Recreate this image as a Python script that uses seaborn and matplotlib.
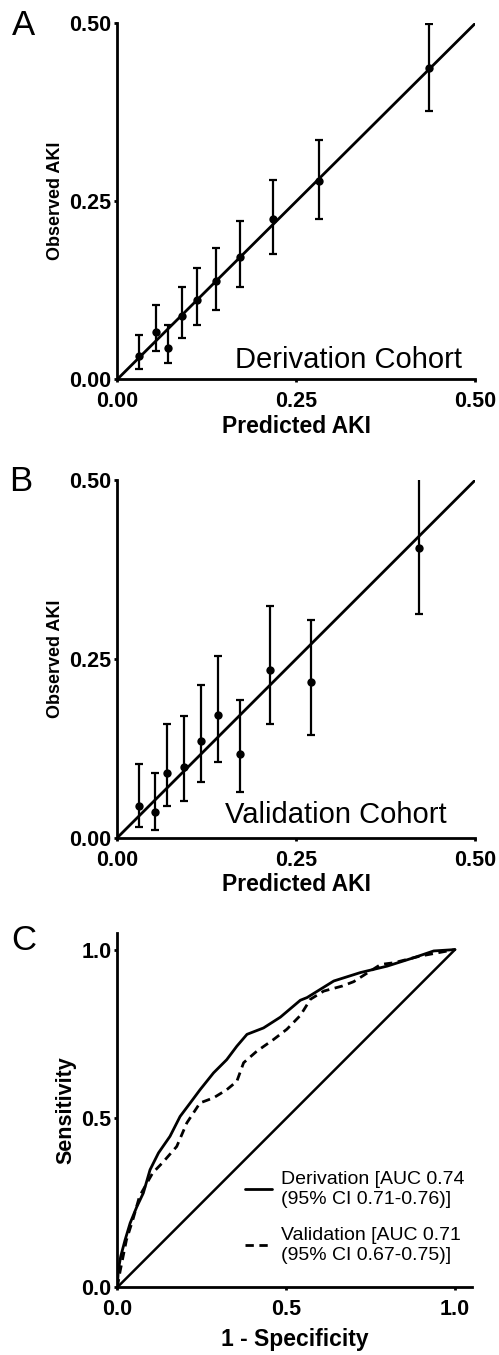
import matplotlib
matplotlib.use("Agg")
import matplotlib.pyplot as plt
import seaborn as sns
import numpy as np
import pandas as pd

# ---------------- data ----------------
deriv_pred = [0.030, 0.054, 0.071, 0.090, 0.112, 0.138, 0.172, 0.217, 0.282, 0.436]
deriv_obs = [0.033, 0.066, 0.044, 0.089, 0.112, 0.138, 0.172, 0.225, 0.279, 0.437]
deriv_lo = [0.014, 0.040, 0.023, 0.058, 0.076, 0.098, 0.129, 0.176, 0.225, 0.377]
deriv_hi = [0.062, 0.104, 0.076, 0.130, 0.156, 0.185, 0.223, 0.280, 0.336, 0.499]

valid_pred = [0.031, 0.053, 0.070, 0.093, 0.117, 0.140, 0.171, 0.213, 0.270, 0.421]
valid_obs = [0.045, 0.036, 0.091, 0.099, 0.135, 0.171, 0.117, 0.234, 0.217, 0.405]
valid_lo = [0.015, 0.011, 0.045, 0.051, 0.078, 0.106, 0.064, 0.159, 0.144, 0.313]
valid_hi = [0.103, 0.090, 0.159, 0.170, 0.213, 0.254, 0.193, 0.324, 0.304, 0.530]

roc_deriv_fpr = [0, 0.003, 0.010, 0.023, 0.038, 0.058, 0.077, 0.097, 0.122, 0.156, 0.186,
                 0.216, 0.245, 0.285, 0.324, 0.354, 0.384, 0.433, 0.483, 0.542, 0.562,
                 0.641, 0.720, 0.799, 0.878, 0.937, 1.0]
roc_deriv_tpr = [0, 0.051, 0.091, 0.140, 0.190, 0.239, 0.279, 0.348, 0.398, 0.447, 0.506,
                 0.546, 0.585, 0.635, 0.674, 0.714, 0.749, 0.768, 0.800, 0.850, 0.858,
                 0.907, 0.932, 0.951, 0.976, 0.996, 1.0]
roc_valid_fpr = [0, 0.008, 0.027, 0.046, 0.066, 0.105, 0.134, 0.176, 0.206, 0.245, 0.285,
                 0.324, 0.354, 0.374, 0.413, 0.463, 0.502, 0.542, 0.572, 0.611, 0.640,
                 0.666, 0.700, 0.780, 0.819, 0.898, 1.0]
roc_valid_tpr = [0, 0.046, 0.140, 0.200, 0.270, 0.339, 0.369, 0.417, 0.487, 0.546, 0.561,
                 0.585, 0.610, 0.665, 0.699, 0.734, 0.764, 0.805, 0.853, 0.877, 0.885,
                 0.892, 0.905, 0.956, 0.961, 0.981, 1.0]

calib_ticks = [0.0, 0.25, 0.5]
calib_ticklabels = ["0.00", "0.25", "0.50"]
roc_ticks = [0.0, 0.5, 1.0]
roc_ticklabels = ["0.0", "0.5", "1.0"]
legend_labels = ["Derivation [AUC 0.74\n(95% CI 0.71-0.76)]",
                 "Validation [AUC 0.71\n(95% CI 0.67-0.75)]"]

# ---------------- style ----------------
sns.set_style("ticks")
plt.rcParams["font.family"] = ["Liberation Sans", "DejaVu Sans"]
plt.rcParams["axes.linewidth"] = 2.0
for key in ["text.color", "axes.labelcolor", "xtick.color", "ytick.color", "axes.edgecolor"]:
    plt.rcParams[key] = "black"

W, H = 499, 1355
fig = plt.figure(figsize=(W / 100, H / 100), dpi=100)

def fx(px):
    return px / W

def fy(py):
    return 1 - py / H

axA = fig.add_axes([fx(117.3), fy(379.3), (475.3 - 117.3) / W, (379.3 - 23.3) / H])
axB = fig.add_axes([fx(117.3), fy(837.7), (475.3 - 117.3) / W, (837.7 - 480.0) / H])
axC = fig.add_axes([fx(117.3), fy(1287.3), 354.6 / W, 354.6 / H])


def style_axes(ax, ticks, labels, lim, xlabel, ylabel, xlabpad, ylabpad, ysize):
    sns.despine(ax=ax)
    ax.set_xlim(*lim)
    ax.set_ylim(*lim)
    ax.set_xticks(ticks)
    ax.set_yticks(ticks)
    ax.set_xticklabels(labels, fontsize=15.5, fontweight="bold", color="black")
    ax.set_yticklabels(labels, fontsize=15.5, fontweight="bold", color="black")
    ax.tick_params(axis="both", direction="out", length=2.5, width=2.0, color="black")
    ax.tick_params(axis="x", pad=6)
    ax.tick_params(axis="y", pad=1.5)
    ax.set_xlabel(xlabel, fontsize=16.5, fontweight="bold", labelpad=xlabpad, color="black")
    ax.set_ylabel(ylabel, fontsize=ysize, fontweight="bold", labelpad=ylabpad, color="black")
    for s in ax.spines.values():
        s.set_linewidth(2.0)
        s.set_color("black")


def calib_panel(ax, pred, obs, lo, hi, text, tx, ty):
    diag = pd.DataFrame({"x": [0.0, 0.5], "y": [0.0, 0.5]})
    sns.lineplot(data=diag, x="x", y="y", ax=ax, color="black", lw=2.0)
    pred = np.array(pred)
    obs = np.array(obs)
    yerr = np.vstack([obs - np.array(lo), np.array(hi) - obs])
    ax.errorbar(pred, obs, yerr=yerr, fmt="none", ecolor="black", elinewidth=1.6,
                capsize=2.6, capthick=1.6, zorder=3)
    sns.scatterplot(x=pred, y=obs, ax=ax, color="black", s=36, edgecolor="black",
                    linewidth=0, zorder=4)
    ax.text(tx, ty, text, fontsize=21, ha="right", va="baseline", color="black")
    style_axes(ax, calib_ticks, calib_ticklabels, (0, 0.5),
               "Predicted AKI", "Observed AKI", 2, 4, 13)


calib_panel(axA, deriv_pred, deriv_obs, deriv_lo, deriv_hi, "Derivation Cohort", 0.482, 0.016)
calib_panel(axB, valid_pred, valid_obs, valid_lo, valid_hi, "Validation Cohort", 0.460, 0.021)

# ---------------- ROC panel ----------------
sns.lineplot(x=[0.0, 1.0], y=[0.0, 1.0], ax=axC, color="black", lw=1.8)
sns.lineplot(x=roc_deriv_fpr, y=roc_deriv_tpr, ax=axC, color="black", lw=2.0,
             sort=False, estimator=None, label=legend_labels[0])
sns.lineplot(x=roc_valid_fpr, y=roc_valid_tpr, ax=axC, color="black", lw=2.0,
             sort=False, estimator=None, linestyle=(0, (3, 2)), label=legend_labels[1])
style_axes(axC, roc_ticks, roc_ticklabels, (0, 1.05),
           "1 - Specificity", "Sensitivity", 5.5, 4, 15.5)
handles, labs = axC.get_legend_handles_labels()
axC.legend(handles, labs, frameon=False, loc="upper left",
           bbox_to_anchor=(0.36, 0.328), borderaxespad=0, borderpad=0,
           fontsize=14, handlelength=1.4, handletextpad=0.45, labelspacing=1.0,
           labelcolor="black")

# panel letters
fig.text(fx(11.5), fy(35), "A", fontsize=25, ha="left", va="baseline", color="black")
fig.text(fx(9.5), fy(491), "B", fontsize=25, ha="left", va="baseline", color="black")
fig.text(fx(11.5), fy(950), "C", fontsize=25, ha="left", va="baseline", color="black")

fig.savefig("out.png", dpi=100)
